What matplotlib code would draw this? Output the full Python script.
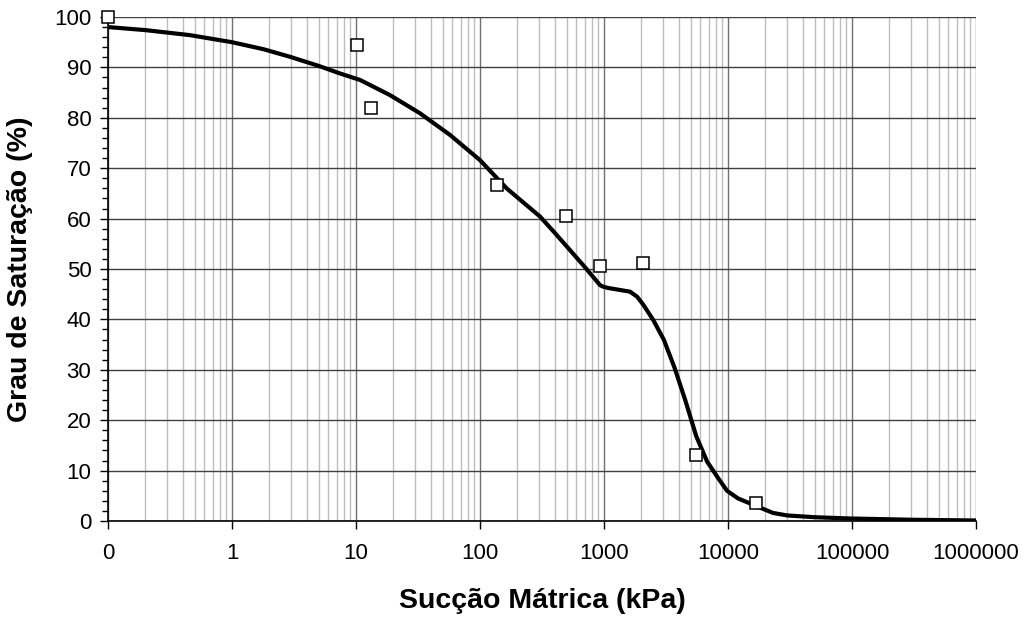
import matplotlib
matplotlib.use("Agg")
import matplotlib.pyplot as plt
import numpy as np
from matplotlib.ticker import FixedLocator, FixedFormatter, LogLocator, MultipleLocator, NullFormatter

plt.rcParams['font.family'] = ['Liberation Sans', 'DejaVu Sans']

# Measured data points (suction kPa, degree of saturation %)
suction_pts = [0.1, 10.2, 13.2, 137, 494, 929, 2065, 5520, 16800]
saturation_pts = [100.0, 94.4, 81.9, 66.7, 60.5, 50.6, 51.2, 13.1, 3.6]

# Fitted curve
suction_fit = [0.1, 0.2, 0.458, 1.0, 1.8, 2.94, 5.0, 7.43, 10.8, 18.8, 32.8, 57.3, 100, 164,
               305, 400, 700, 929, 981, 1100, 1300, 1622, 1850, 2076, 2493, 3046,
               3720, 4545, 5550, 6780, 8280, 9820,
               12000, 17140, 23070, 30000, 50000, 96400, 300000, 1000000]
saturation_fit = [98.0, 97.4, 96.4, 95.0, 93.6, 92.1, 90.3, 88.8, 87.5, 84.5, 80.9, 76.6, 71.6, 66.0,
                  60.4, 57.2, 50.4, 46.8, 46.5, 46.2, 45.9, 45.5, 44.5, 42.9, 39.9, 35.9,
                  30.3, 23.8, 16.8, 11.8, 8.6, 6.0,
                  4.5, 2.9, 1.6, 1.1, 0.75, 0.5, 0.25, 0.1]

x_ticks = [0.1, 1, 10, 100, 1000, 10000, 100000, 1000000]
x_tick_labels = ['0', '1', '10', '100', '1000', '10000', '100000', '1000000']
y_ticks = [0, 10, 20, 30, 40, 50, 60, 70, 80, 90, 100]

fig = plt.figure(figsize=(10.25, 6.19), dpi=100)
ax = fig.add_axes([108/1025, (619-521)/619, (976-108)/1025, (521-17)/619])

ax.set_xscale('log')
ax.set_xlim(0.1, 1000000)
ax.set_ylim(0, 100)

ax.xaxis.set_major_locator(FixedLocator(x_ticks))
ax.xaxis.set_major_formatter(FixedFormatter(x_tick_labels))
ax.xaxis.set_minor_locator(LogLocator(base=10, subs=np.arange(2, 10)))
ax.xaxis.set_minor_formatter(NullFormatter())
ax.yaxis.set_major_locator(FixedLocator(y_ticks))
ax.yaxis.set_minor_locator(MultipleLocator(2))

ax.grid(which='minor', axis='x', color='#bdbdbd', lw=1.0)
ax.grid(which='major', axis='x', color='#707070', lw=1.0)
ax.grid(which='major', axis='y', color='#404040', lw=1.0)
ax.set_axisbelow(True)

for s in ['top', 'right']:
    ax.spines[s].set_visible(False)
for s in ['left', 'bottom']:
    ax.spines[s].set_color('black')
    ax.spines[s].set_linewidth(1.2)

ax.tick_params(axis='x', which='major', direction='out', length=6, width=1, labelsize=16, pad=10)
ax.tick_params(axis='x', which='minor', length=0)
ax.tick_params(axis='y', which='major', direction='out', length=6, width=1, labelsize=16, pad=6)
ax.tick_params(axis='y', which='minor', direction='out', length=4, width=1)

ax.plot(suction_fit, saturation_fit, color='black', lw=3.0, zorder=3,
        solid_joinstyle='round', solid_capstyle='round')
ax.plot(suction_pts, saturation_pts, linestyle='none', marker='s', markersize=9,
        markerfacecolor='white', markeredgecolor='black', markeredgewidth=1.1, zorder=4, clip_on=False)

ax.set_xlabel('Sucção Mátrica (kPa)', fontsize=20.5, fontweight='bold', labelpad=17)
ax.set_ylabel('Grau de Saturação (%)', fontsize=20.5, fontweight='bold', labelpad=15)

fig.savefig('out.png', dpi=100)
